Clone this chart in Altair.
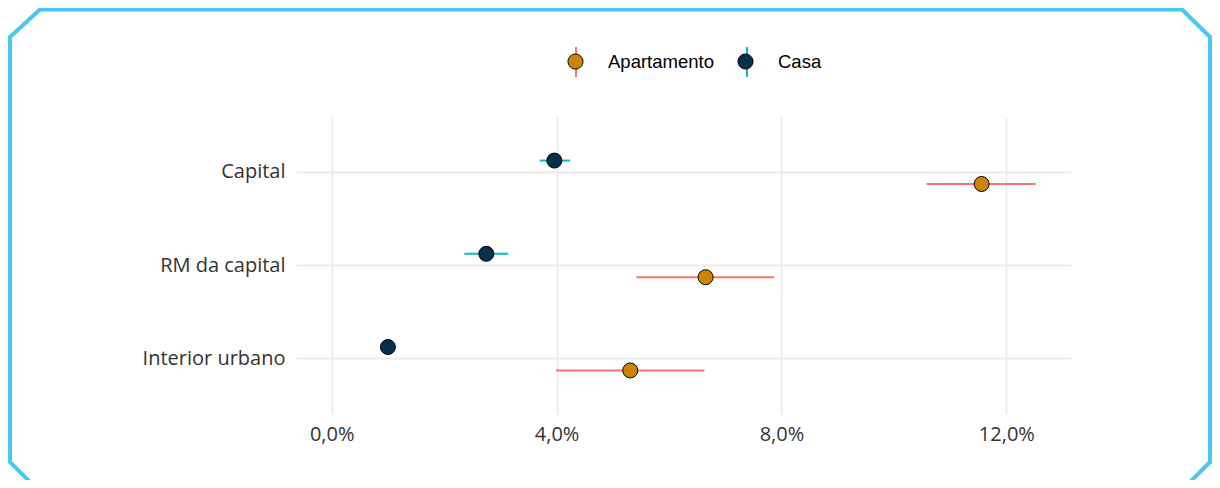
import altair as alt
import pandas as pd

# ---- data (percent values) ----
regioes = ["Capital", "RM da capital", "Interior urbano"]
tipos = ["Apartamento", "Casa"]

casa_est = [3.96, 2.75, 1.00]
casa_lo = [3.70, 2.36, 0.90]
casa_hi = [4.24, 3.14, 1.10]

apto_est = [11.56, 6.65, 5.31]
apto_lo = [10.58, 5.42, 3.99]
apto_hi = [12.52, 7.87, 6.63]

tick_vals = [0.0, 0.04, 0.08, 0.12]

rows = []
for i, r in enumerate(regioes):
    rows.append({"regiao": r, "tipo": "Casa", "grupo": "Casa",
                 "est": casa_est[i] / 100, "lo": casa_lo[i] / 100, "hi": casa_hi[i] / 100})
    rows.append({"regiao": r, "tipo": "Apartamento", "grupo": "Apartamento",
                 "est": apto_est[i] / 100, "lo": apto_lo[i] / 100, "hi": apto_hi[i] / 100})
df = pd.DataFrame(rows)

FILL = ["#CC8500", "#06304B"]
LINE = ["#F8766D", "#00BFC4"]
FRAME = "#48C8F0"
LEG_FONT = "Liberation Sans"
AX_FONT = "Open Sans"

W, H = 775, 297
LX, LY = 264, -71
XDOM = [-0.00635, 0.1315]
LABEL_EXPR = "replace(format(datum.value, '.1%'), '.', ',')"

y_enc = alt.Y("regiao:N", sort=regioes,
              scale=alt.Scale(type="band", domain=regioes, paddingInner=0, paddingOuter=0.093),
              axis=alt.Axis(title=None, bandPosition=0.5))
yoff = alt.YOffset("tipo:N", scale=alt.Scale(domain=["Casa", "Apartamento"],
                                              paddingInner=0, paddingOuter=0.99))

circle_path = "M-0.5,0A0.5,0.5 0 1,0 0.5,0A0.5,0.5 0 1,0 -0.5,0Z"

bars = alt.Chart(df).mark_rule(strokeWidth=2).encode(
    x=alt.X("lo:Q", scale=alt.Scale(domain=XDOM, nice=False, zero=False),
            axis=alt.Axis(values=tick_vals, title=None, labelExpr=LABEL_EXPR)),
    x2="hi:Q",
    y=y_enc,
    yOffset=yoff,
    stroke=alt.Stroke("grupo:N", scale=alt.Scale(domain=tipos, range=LINE),
                      legend=alt.Legend(orient="none", legendX=LX, legendY=LY,
                                        direction="horizontal", title=None,
                                        symbolType="M0,-1L0,1", symbolSize=900,
                                        symbolStrokeWidth=2, labelOpacity=0,
                                        labelFont=LEG_FONT, labelFontSize=18.5,
                                        labelOffset=17, columnPadding=16, zindex=1)),
)

pts = alt.Chart(df).mark_point(filled=True, size=225, stroke="black", strokeWidth=1,
                               opacity=1, shape="circle").encode(
    x=alt.X("est:Q", scale=alt.Scale(domain=XDOM, nice=False, zero=False),
            axis=alt.Axis(values=tick_vals, title=None, labelExpr=LABEL_EXPR)),
    y=y_enc,
    yOffset=yoff,
    fill=alt.Fill("tipo:N", scale=alt.Scale(domain=tipos, range=FILL),
                  legend=alt.Legend(orient="none", legendX=LX, legendY=LY,
                                    direction="horizontal", title=None,
                                    symbolType=circle_path, symbolSize=900,
                                    symbolStrokeColor="black", symbolStrokeWidth=1,
                                    symbolOpacity=1,
                                    labelFont=LEG_FONT, labelFontSize=18.5, labelColor="#000000",
                                    labelOffset=17, columnPadding=16, zindex=2)),
)

one = pd.DataFrame({"k": [0]})


def seg(x1, y1, x2, y2):
    return alt.Chart(one).mark_rule(color=FRAME, strokeWidth=4, strokeCap="round").encode(
        x=alt.value(x1), x2=alt.value(x2), y=alt.value(y1), y2=alt.value(y2))


frame = [
    seg(-286, -80, -286, 345),
    seg(-256, -107.5, 886, -107.5),
    seg(914, -80, 914, 345),
    seg(-286, -80, -256, -107.5),
    seg(886, -107.5, 914, -80),
    seg(-286, 345, -258, 373),
    seg(914, 345, 886, 373),
]

chart = alt.layer(*frame, bars, pts).resolve_scale(
    fill="independent", stroke="independent"
).properties(
    width=W, height=H,
    autosize=alt.AutoSizeParams(type="none"),
    padding={"left": 288, "top": 109, "right": 141, "bottom": 66},
    background="white",
).configure_view(stroke=None).configure_axis(
    domain=False, ticks=False, grid=True, gridColor="#EBEBEB", gridWidth=1.8,
    labelFont=AX_FONT, labelFontSize=20, labelColor="#333333",
).configure_axisY(labelPadding=11).configure_axisX(labelPadding=10)

chart.save("out.html", embed_options={"renderer": "svg", "actions": False})
